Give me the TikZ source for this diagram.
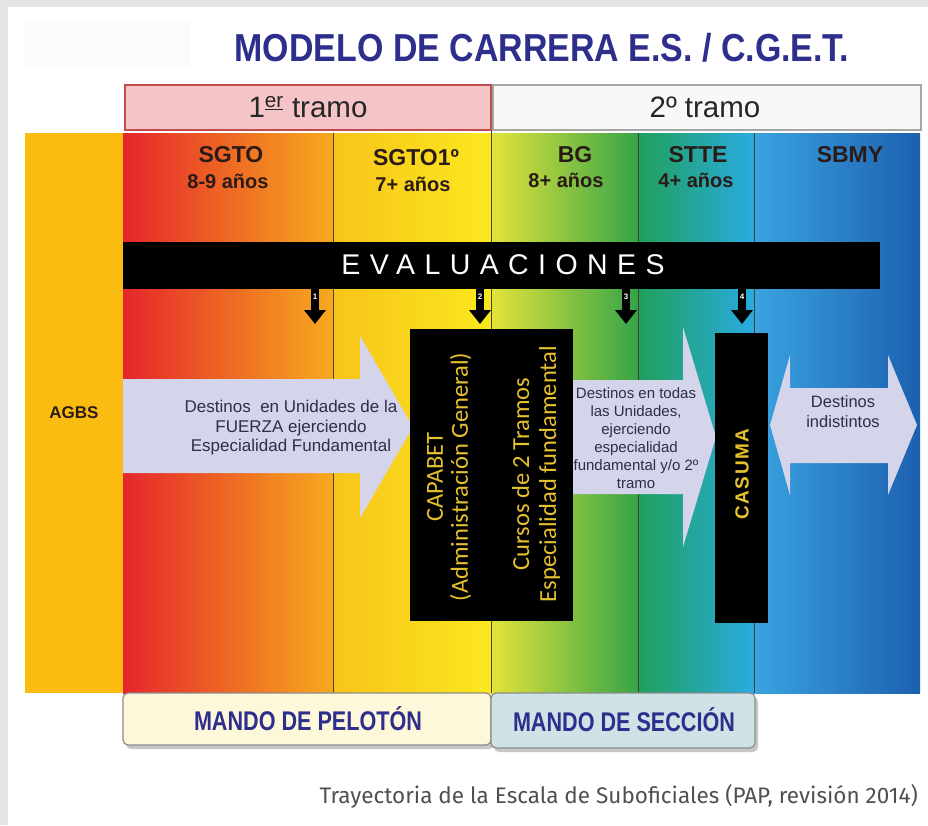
\documentclass[tikz,border=0pt]{standalone}
\usepackage{fontspec}
\setmainfont{Liberation Sans}
\newfontfamily\narrowf[FakeStretch=0.8]{Liberation Sans}
\newfontfamily\titlef[FakeStretch=0.87]{Liberation Sans}
\newfontfamily\calib{Carlito}
\newfontfamily\capf{Fira Sans}
\newfontfamily\spacedf[LetterSpace=33]{Liberation Sans}
\newfontfamily\casf[LetterSpace=8]{Liberation Sans}
\usetikzlibrary{arrows.meta}
\definecolor{bggrey}{HTML}{E4E4E2}
\definecolor{agbs}{HTML}{FBBC12}
\definecolor{navy}{HTML}{2E2E8C}
\definecolor{lav}{HTML}{D4D5EB}
\definecolor{lbl}{HTML}{2B1B17}
\definecolor{capy}{HTML}{E6C12E}
\definecolor{arrtxt}{HTML}{2D2D4C}
\definecolor{sepc}{HTML}{4A4030}
\definecolor{mandoA}{HTML}{FEF8DA}
\definecolor{mandoB}{HTML}{CFE2E6}
\definecolor{boxedge}{HTML}{8C8C8C}
\definecolor{tramoA}{HTML}{F5C4C6}
\definecolor{tramoAedge}{HTML}{C04A4E}
\definecolor{tramoB}{HTML}{F8F8F8}
\definecolor{captc}{HTML}{505050}
\tikzset{
  collabel/.style={text=lbl, font=\bfseries\fontsize{23}{25}\selectfont, anchor=center, inner sep=0},
  colyears/.style={text=lbl, font=\bfseries\fontsize{20}{22}\selectfont, anchor=center, inner sep=0},
  seplinestyle/.style={draw=sepc, line width=0.9pt},
  lavarrow/.style={fill=lav, draw=none},
  arrtext/.style={text=arrtxt, align=center, inner sep=0},
  blackbox/.style={fill=black, draw=none},
  evarrow/.style={line width=8pt, -{Triangle[width=21pt,length=14pt]}, draw=black},
  evnum/.style={text=white, font=\bfseries\fontsize{8}{8}\selectfont, inner sep=0},
  mando/.style={draw=boxedge, line width=1.2pt, rounded corners=5pt},
  mandotext/.style={text=navy, font=\narrowf\bfseries\fontsize{27}{29}\selectfont, inner sep=0},
  tramotext/.style={text=black!85, font=\fontsize{29.5}{31}\selectfont, inner sep=0},
}
\begin{document}
\begin{tikzpicture}[x=1pt,y=-1pt]
\useasboundingbox (0,0) rectangle (928,825);
% background
\fill[bggrey] (0,0) rectangle (928,825);
\fill[white] (8,7) rectangle (928,825);
\fill[black!1.5] (25,22) rectangle (190,68);
% AGBS column
\fill[agbs] (25,133) rectangle (123,693);
\node[text=lbl, font=\bfseries\fontsize{17}{19}\selectfont] (agbs) at (74,413) {AGBS};
% gradient columns
\shade[left color={rgb,255:red,229;green,38;blue,43}, middle color={rgb,255:red,237;green,92;blue,38}, right color={rgb,255:red,247;green,170;blue,30}] (123,133) rectangle (333,693);
\shade[left color={rgb,255:red,248;green,196;blue,26}, middle color={rgb,255:red,255;green,226;blue,0}, right color={rgb,255:red,250;green,232;blue,30}] (333,133) rectangle (491,693);
\shade[left color={rgb,255:red,228;green,228;blue,58}, middle color={rgb,255:red,141;green,198;blue,63}, right color={rgb,255:red,52;green,164;blue,72}] (491,133) rectangle (638,693);
\shade[left color={rgb,255:red,32;green,160;blue,90}, middle color={rgb,255:red,30;green,168;blue,160}, right color={rgb,255:red,41;green,171;blue,226}] (638,133) rectangle (754,693);
\shade[left color={rgb,255:red,58;green,163;blue,224}, middle color={rgb,255:red,45;green,136;blue,210}, right color={rgb,255:red,28;green,96;blue,176}] (754,133) rectangle (920,693);
% separators
\draw[seplinestyle] (333,133) -- (333,693);
\draw[seplinestyle] (491,130) -- (491,693);
\draw[seplinestyle] (638,133) -- (638,693);
\draw[seplinestyle] (754,133) -- (754,693);
% column labels
\node[collabel] (sgto) at (231,155) {SGTO};
\node[colyears] (sgtoy) at (228,181) {8-9 años};
\node[collabel] (sgto1) at (416,158) {SGTO1º};
\node[colyears] (sgto1y) at (413,184) {7+ años};
\node[collabel] (bg) at (575,155) {BG};
\node[colyears] (bgy) at (566,180) {8+ años};
\node[collabel] (stte) at (698,155) {STTE};
\node[colyears] (sttey) at (696,180) {4+ años};
\node[collabel] (sbmy) at (850,155) {SBMY};
% evaluaciones bar
\node[fill=black, minimum width=757pt, minimum height=47pt, inner sep=0, anchor=north west] (evbar) at (123,242) {};
\node[text=white, font=\spacedf\fontsize{28.5}{30}\selectfont, inner sep=0] (evtext) at (503,265) {EVALUACIONES};
% evaluation arrows
\coordinate (e1s) at (315,288); \coordinate (e1e) at (315,324);
\coordinate (e2s) at (480,288); \coordinate (e2e) at (480,324);
\coordinate (e3s) at (626,288); \coordinate (e3e) at (626,324);
\coordinate (e4s) at (742,288); \coordinate (e4e) at (742,324);
\draw[evarrow] (e1s) -- (e1e);
\draw[evarrow] (e2s) -- (e2e);
\draw[evarrow] (e3s) -- (e3e);
\draw[evarrow] (e4s) -- (e4e);
\node[evnum] (n1) at (315,297) {1};
\node[evnum] (n2) at (480,297) {2};
\node[evnum] (n3) at (626,297) {3};
\node[evnum] (n4) at (742,297) {4};
% lavender arrows
\fill[lavarrow] (123,379) -- (360,379) -- (360,336) -- (413,427) -- (360,518) -- (360,473) -- (123,473) -- cycle;
\fill[lavarrow] (573,380) -- (683,380) -- (683,327) -- (716,437) -- (683,547) -- (683,494) -- (573,494) -- cycle;
\fill[lavarrow] (770,425) -- (790,355) -- (790,388) -- (888,388) -- (888,355) -- (917,425) -- (888,495) -- (888,463) -- (790,463) -- (790,495) -- cycle;
\node[arrtext, font=\fontsize{17}{19.5}\selectfont] (dest1) at (291,428) {Destinos\ \ en Unidades de la\\FUERZA ejerciendo\\Especialidad Fundamental};
\node[arrtext, font=\fontsize{15}{18}\selectfont] (dest2) at (636,438) {Destinos en todas\\las Unidades,\\ejerciendo\\especialidad\\fundamental y/o 2º\\tramo};
\node[arrtext, font=\fontsize{16.5}{20}\selectfont] (dest3) at (843,412) {Destinos\\indistintos};
% black boxes
\node[blackbox, minimum width=163pt, minimum height=292pt, inner sep=0, anchor=north west] (capabet) at (410,329) {};
\node[text=capy, font=\calib\fontsize{24.5}{25}\selectfont, rotate=90, align=center, inner sep=0] (captext1) at (449,477) {CAPABET\\(Administración General)};
\node[text=capy, font=\calib\fontsize{24.5}{27}\selectfont, rotate=90, align=center, inner sep=0] (captext2) at (536,474) {Cursos de 2 Tramos\\Especialidad fundamental};
\node[blackbox, minimum width=53pt, minimum height=290pt, inner sep=0, anchor=north west] (casuma) at (715,333) {};
\node[text=capy, font=\casf\bfseries\fontsize{19}{21}\selectfont, rotate=90, inner sep=0] (casumatext) at (742,474) {CASUMA};
% tramo headers
\node[draw=tramoAedge, line width=2pt, fill=tramoA, minimum width=366pt, minimum height=45pt, inner sep=0, anchor=north west] (tramo1) at (124,84) {};
\node[tramotext] (tramo1t) at (308,107) {1\textsuperscript{\underline{er}} tramo};
\node[draw=black!35, line width=1.5pt, fill=tramoB, minimum width=428pt, minimum height=45pt, inner sep=0, anchor=north west] (tramo2) at (492,84) {};
\node[tramotext] (tramo2t) at (705,107) {2º tramo};
% mando boxes
\fill[black!22, rounded corners=5pt] (126,697) rectangle (494,749);
\fill[black!22, rounded corners=5pt] (494,697) rectangle (758,752);
\draw[mando, fill=mandoA] (123,693) rectangle (491,745);
\draw[mando, fill=mandoB] (491,693) rectangle (755,748);
\node[mandotext] (mando1) at (308,719) {MANDO DE PELOTÓN};
\node[mandotext] (mando2) at (624,720) {MANDO DE SECCIÓN};
% title
\node[text=navy, font=\titlef\bfseries\fontsize{39}{41}\selectfont, inner sep=0] (title) at (542,48) {MODELO DE CARRERA E.S. / C.G.E.T.};
% caption
\node[text=captc, font=\capf\fontsize{22.5}{24}\selectfont, inner sep=0, anchor=east] (caption) at (918,796) {Trayectoria de la Escala de Suboficiales (PAP, revisión 2014)};
\end{tikzpicture}
\end{document}
